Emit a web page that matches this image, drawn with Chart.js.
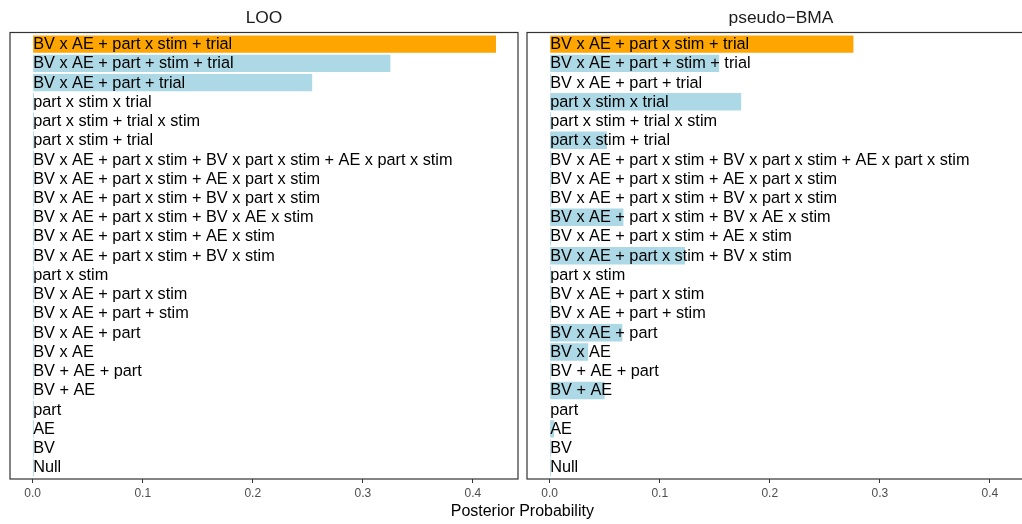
<!DOCTYPE html>
<html><head><meta charset="utf-8">
<script src="https://cdn.jsdelivr.net/npm/chart.js@4.4.1/dist/chart.umd.min.js"></script>
<style>
html,body{margin:0;padding:0;width:1022px;height:524px;overflow:hidden;background:#fff;}
canvas{position:absolute;top:0;}
#c1{left:0px}
#c2{left:517px}
#xt{position:absolute;left:0;width:1044.6px;top:500px;line-height:21px;text-align:center;font-family:"Liberation Sans",Arial,sans-serif;font-size:16px;color:#000;white-space:nowrap}
</style></head>
<body>
<canvas id="c1" width="522" height="524"></canvas>
<canvas id="c2" width="522" height="524"></canvas>
<div id="xt">Posterior Probability</div>
<script>
const categories = [
  "BV x AE + part x stim + trial",
  "BV x AE + part + stim + trial",
  "BV x AE + part + trial",
  "part x stim x trial",
  "part x stim + trial x stim",
  "part x stim + trial",
  "BV x AE + part x stim + BV x part x stim + AE x part x stim",
  "BV x AE + part x stim + AE x part x stim",
  "BV x AE + part x stim + BV x part x stim",
  "BV x AE + part x stim + BV x AE x stim",
  "BV x AE + part x stim + AE x stim",
  "BV x AE + part x stim + BV x stim",
  "part x stim",
  "BV x AE + part x stim",
  "BV x AE + part + stim",
  "BV x AE + part",
  "BV x AE",
  "BV + AE + part",
  "BV + AE",
  "part",
  "AE",
  "BV",
  "Null"
];
const looValues = [0.421, 0.325, 0.254, 0.0012, 0.0012, 0.0012, 0.0012, 0.0012, 0.0012, 0.0012, 0.0012, 0.0012, 0.0012, 0.0012, 0.0012, 0.0012, 0.0012, 0.0012, 0.0012, 0.0012, 0.0012, 0.0012, 0.0012];
const bmaValues = [0.276, 0.154, 0.0012, 0.174, 0.0012, 0.052, 0.0012, 0.0012, 0.0012, 0.067, 0.0012, 0.123, 0.0012, 0.0012, 0.0012, 0.066, 0.035, 0.0012, 0.050, 0.0003, 0.004, 0.0012, 0.0012];
const panelTitles = ["LOO", "pseudo\u2212BMA"];
const tickValues = [0, 0.1, 0.2, 0.3, 0.4];
const tickLabels = ["0.0", "0.1", "0.2", "0.3", "0.4"];
const bestIndex = 0;

const FONT = '"Liberation Sans", Arial, sans-serif';

const panelPlugin = {
  id: 'panel',
  afterDatasetsDraw(chart, args, opts) {
    const {ctx, chartArea: a, scales: {x, y}} = chart;
    ctx.save();
    ctx.font = '16.3px ' + FONT;
    ctx.fillStyle = '#000000';
    ctx.textAlign = 'left';
    ctx.textBaseline = 'middle';
    const x0 = x.getPixelForValue(0);
    categories.forEach((c, i) => ctx.fillText(c, x0 + 0.5, y.getPixelForValue(i) + 0.5));
    ctx.strokeStyle = '#333333';
    ctx.lineWidth = 1.2;
    ctx.strokeRect(a.left, a.top, a.right - a.left, a.bottom - a.top);
    ctx.font = '17.4px ' + FONT;
    ctx.fillStyle = '#1A1A1A';
    ctx.textAlign = 'center';
    ctx.fillText(opts.title, (a.left + a.right) / 2, 18.5);
    ctx.restore();
  }
};

function makeChart(id, values, title) {
  return new Chart(document.getElementById(id), {
    type: 'bar',
    data: {
      datasets: [{
        data: values.map((v, i) => ({x: v, y: i})),
        backgroundColor: values.map((v, i) => i === bestIndex ? '#FFA500' : '#ADD8E6'),
        borderWidth: 0,
        barPercentage: 0.9,
        categoryPercentage: 1.0
      }]
    },
    options: {
      indexAxis: 'y',
      responsive: false,
      animation: false,
      devicePixelRatio: 1,
      layout: {padding: {left: 10, right: 4, top: 32.5, bottom: 0}},
      plugins: {legend: {display: false}, tooltip: {enabled: false}, title: {display: false}, panel: {title: title}},
      scales: {
        y: {
          type: 'linear', bounds: 'data', offset: false, grid: {offset: false},
          min: -0.6, max: categories.length - 0.4, reverse: true, display: false,
          ticks: {includeBounds: false},
          afterBuildTicks: s => { s.ticks = categories.map((_, i) => ({value: i})); }
        },
        x: {
          type: 'linear', bounds: 'data', offset: false, min: -0.0206, max: 0.441,
          afterBuildTicks: s => { s.ticks = tickValues.map(v => ({value: v})); },
          afterFit: s => { s.height = 45; },
          grid: {drawOnChartArea: false, drawTicks: true, tickLength: 4, color: '#333333', lineWidth: 1},
          border: {display: false},
          ticks: {
            includeBounds: false,
            padding: 3, color: '#4D4D4D', maxRotation: 0, autoSkip: false,
            font: {family: FONT, size: 12},
            callback: (v, i) => tickLabels[i]
          }
        }
      }
    },
    plugins: [panelPlugin]
  });
}

makeChart('c1', looValues, panelTitles[0]);
makeChart('c2', bmaValues, panelTitles[1]);
</script>
</body></html>
